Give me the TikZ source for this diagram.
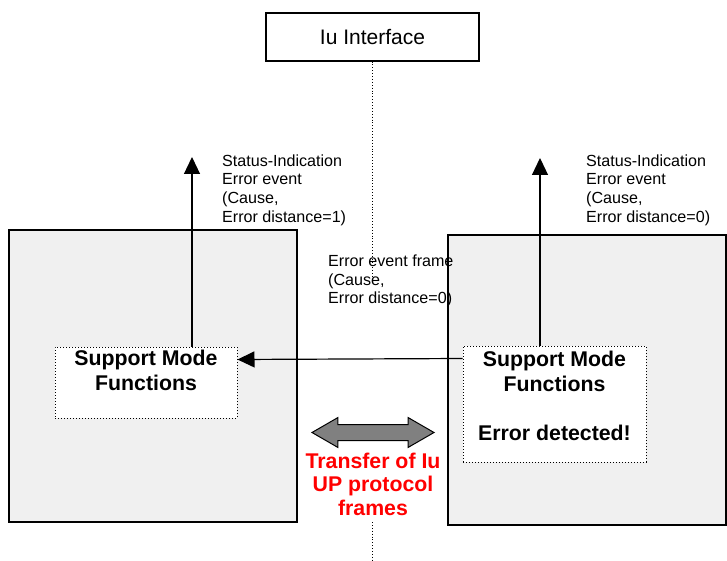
\documentclass[tikz,border=0pt]{standalone}
\usepackage{fontspec}
\setmainfont{Liberation Sans}
\usetikzlibrary{positioning, arrows.meta, shapes.arrows}

\begin{document}
\begin{tikzpicture}[x=1pt, y=-1pt,
  entity/.style={draw, line width=1.3pt, fill=black!6, inner sep=0pt},
  smf/.style={draw, dotted, line width=1pt, fill=white, inner sep=0pt, align=center, font=\fontsize{21.3}{24.5}\selectfont\bfseries},
  note/.style={inner sep=0pt, align=left, anchor=west, font=\fontsize{16.1}{18.6}\selectfont},
  arr/.style={line width=1.2pt, -{Triangle[length=17pt, width=16pt]}},
  iface/.style={dotted, line width=0.9pt}]
\useasboundingbox (0,0) rectangle (727,561);

\node[entity, minimum width=288pt, minimum height=292pt](rncL) at (153,376) {};
\node[entity, minimum width=278pt, minimum height=290pt](rncR) at (587,380) {};
\node[draw, line width=1.2pt, minimum width=213pt, minimum height=48pt, font=\fontsize{21}{24}\selectfont](iu) at (372.5,37) {Iu Interface};

\node[smf, minimum width=182pt, minimum height=71pt](smfL) at (146,382.5) {Support Mode\\Functions\\\mbox{}};
\node[smf, minimum width=183pt, minimum height=116pt](smfR) at (554.5,404) {Support Mode\\Functions\\[24.5pt]Error detected!\\[-8pt]\mbox{}};

\coordinate (upL) at (192,157);
\coordinate (upR) at (540,158);
\coordinate (ifA) at (372.5,283);
\coordinate (ifB) at (372.5,522);
\coordinate (ifC) at (372.5,561);

\draw[iface] (iu.south) -- (ifA);
\draw[iface] (ifB) -- (ifC);

\draw[arr] (smfL.north -| upL) -- (upL);
\draw[arr] (smfR.north -| upR) -- (upR);
\draw[arr] ([yshift=-13pt]smfR.north west) -- ([yshift=-13pt]smfL.north east);

\node[note](statL) at (222,190) {Status-Indication\\Error event\\(Cause,\\Error distance=1)};
\node[note](statR) at (586,190) {Status-Indication\\Error event\\(Cause,\\Error distance=0)};
\node[note](frame) at (328,281) {Error event frame\\(Cause,\\Error distance=0)};

\node[double arrow, draw, line width=1pt, fill=black!50, inner xsep=0pt, inner ysep=7.5pt, minimum height=122pt, minimum width=29pt, double arrow head extend=7pt, double arrow tip angle=60](xfer) at (373,432.5) {};
\node[font=\fontsize{21.3}{23.5}\selectfont\bfseries, text=red, align=center, inner sep=0pt](xferTxt) at (373,484) {Transfer of Iu\\UP protocol\\frames};
\end{tikzpicture}
\end{document}
